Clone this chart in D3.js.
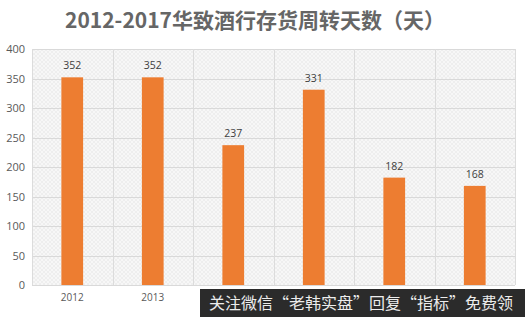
<!DOCTYPE html>
<html>
<head>
<meta charset="utf-8">
<script src="https://cdn.jsdelivr.net/npm/d3@7"></script>
<style>
  html, body { margin: 0; padding: 0; background: #fff; }
  svg { display: block; }
</style>
</head>
<body>
<svg id="chart" width="525" height="317"></svg>
<script>
const categories = ["2012", "2013", "2014", "2015", "2016", "2017"];
const turnoverDays = [352, 352, 237, 331, 182, 168];
const yTicks = [0, 50, 100, 150, 200, 250, 300, 350, 400];
const titleText = "2012-2017华致酒行存货周转天数（天）";
const bannerText = "关注微信“老韩实盘”回复“指标”免费领";

const svg = d3.select("#chart");
const W = 525, H = 317;
const plot = { left: 32, right: 515, top: 49, bottom: 285 };
const banner = { x: 200, y: 289 };

const x = d3.scaleBand().domain(categories).range([plot.left, plot.right]).paddingInner(0.73).paddingOuter(0.365);
const xCell = d3.scaleBand().domain(categories).range([plot.left, plot.right]);
const y = d3.scaleLinear().domain([0, 400]).range([plot.bottom, plot.top]);

// fine cross-hatch texture behind the plot
const defs = svg.append("defs");
const pat = defs.append("pattern").attr("id", "hatch").attr("width", 4).attr("height", 4)
  .attr("patternUnits", "userSpaceOnUse");
pat.append("rect").attr("width", 4).attr("height", 4).attr("fill", "#f7f7f7");
pat.append("path").attr("d", "M0,4 L4,0 M0,0 L4,4").attr("stroke", "#e9e9e9").attr("stroke-width", 0.7);

svg.append("rect")
  .attr("x", plot.left).attr("y", plot.top)
  .attr("width", plot.right - plot.left).attr("height", plot.bottom - plot.top)
  .attr("fill", "url(#hatch)");

// horizontal gridlines
svg.append("g").selectAll("line").data(yTicks).join("line")
  .attr("x1", plot.left).attr("x2", plot.right)
  .attr("y1", d => Math.round(y(d)) + 0.5).attr("y2", d => Math.round(y(d)) + 0.5)
  .attr("stroke", "#d9d9d9").attr("stroke-width", 1);

// vertical category separators
const seps = categories.map(c => xCell(c)).concat([plot.right]);
svg.append("g").selectAll("line").data(seps).join("line")
  .attr("x1", d => Math.round(d) + 0.5).attr("x2", d => Math.round(d) + 0.5)
  .attr("y1", plot.top).attr("y2", plot.bottom)
  .attr("stroke", "#dcdcdc").attr("stroke-width", 1);

// y axis labels
const yAxis = d3.axisLeft(y).tickValues(yTicks).tickSize(0).tickPadding(7);
const gy = svg.append("g").attr("transform", `translate(${plot.left},0)`).call(yAxis);
gy.select(".domain").remove();
gy.selectAll("text").attr("fill", "#595959").style("font-family", "'Open Sans', 'DejaVu Sans', sans-serif").style("font-size", "11px");

// x axis labels (the ones under the bottom banner are covered, so only the visible ones are drawn)
const visibleCats = categories.filter(c => xCell(c) + xCell.bandwidth() / 2 + 15 < banner.x);
const xAxis = d3.axisBottom(xCell).tickValues(visibleCats).tickSize(0).tickPadding(9);
const gx = svg.append("g").attr("transform", `translate(0,${plot.bottom})`).call(xAxis);
gx.select(".domain").remove();
gx.selectAll("text").attr("fill", "#595959").style("font-family", "'Open Sans', 'DejaVu Sans', sans-serif").style("font-size", "10px");

// bars
svg.append("g").selectAll("rect").data(turnoverDays).join("rect")
  .attr("x", (d, i) => x(categories[i]))
  .attr("width", x.bandwidth())
  .attr("y", d => y(d))
  .attr("height", d => y(0) - y(d))
  .attr("fill", "#ED7D31");

// value labels
svg.append("g").selectAll("text").data(turnoverDays).join("text")
  .attr("x", (d, i) => x(categories[i]) + x.bandwidth() / 2)
  .attr("y", d => y(d) - 8)
  .attr("text-anchor", "middle")
  .attr("fill", "#404040")
  .style("font-family", "'Open Sans', 'DejaVu Sans', sans-serif")
  .style("font-size", "10.5px")
  .text(d => d);

// title
svg.append("text")
  .attr("x", 255).attr("y", 28)
  .attr("text-anchor", "middle")
  .attr("fill", "#666666")
  .style("font-family", "'Noto Sans CJK SC', sans-serif")
  .style("font-weight", "bold")
  .style("font-size", "21px")
  .text(titleText);

// bottom banner
svg.append("rect").attr("x", banner.x).attr("y", banner.y).attr("width", W - banner.x).attr("height", H - banner.y).attr("fill", "#2b2b2b");
svg.append("text")
  .attr("x", banner.x + 9).attr("y", 309)
  .attr("fill", "#ececec")
  .style("font-family", "'Noto Sans CJK SC', sans-serif")
  .style("font-size", "16px")
  .text(bannerText);
</script>
</body>
</html>
